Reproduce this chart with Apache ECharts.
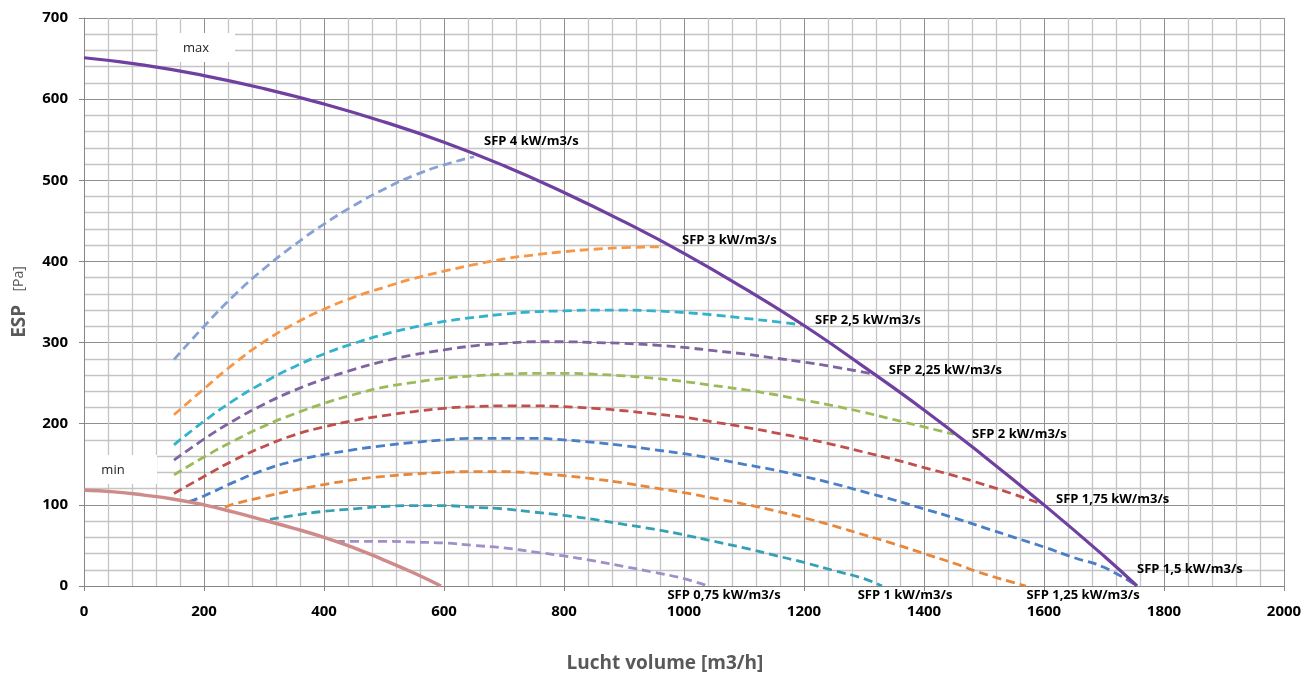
<!DOCTYPE html>
<html>
<head>
<meta charset="utf-8">
<script src="https://cdn.jsdelivr.net/npm/echarts@6/dist/echarts.min.js"></script>
<style>
  html, body { margin: 0; padding: 0; background: #fff; }
  #chart { width: 1304px; height: 675px; }
</style>
</head>
<body>
<div id="chart"></div>
<script>
// ventilator curves, airflow [m3/h] vs ESP [Pa]
const maxCurve = [[0,651],[100,642],[200,629],[300,613],[400,594],[500,572],[600,547],[700,518],[800,485],[900,449],[1000,410],[1100,367],[1200,321],[1300,270],[1400,217],[1500,160],[1600,100],[1700,37],[1755,0]]
const minCurve = [[0,118],[50,116],[100,112],[150,107],[200,100],[250,91],[300,81],[350,71],[400,60],[450,47],[500,32],[550,16],[595,0]]

const sfp4 = [[150,279],[200,320],[250,358],[300,391],[350,420],[400,446],[450,469],[500,489],[550,506],[600,519],[650,529]]
const sfp3 = [[150,211],[200,243],[250,274],[300,301],[350,323],[400,341],[450,356],[500,368],[550,379],[600,388],[650,396],[700,403],[750,408],[800,412],[850,415],[900,417],[960,418]]
const sfp25 = [[150,174],[200,203],[250,229],[300,251],[350,270],[400,286],[450,299],[500,310],[550,319],[600,326],[650,331],[700,335],[750,338],[800,339],[850,340],[900,340],[950,339],[1000,337],[1050,334],[1100,330],[1150,326],[1195,322]]
const sfp225 = [[150,155],[200,181],[250,204],[300,224],[350,241],[400,255],[450,267],[500,277],[550,285],[600,291],[650,296],[700,299],[750,301],[800,301],[850,300],[900,299],[950,297],[1000,294],[1050,290],[1100,286],[1150,281],[1200,276],[1250,270],[1318,261]]
const sfp2 = [[150,137],[200,159],[250,179],[300,197],[350,212],[400,225],[450,236],[500,245],[550,251],[600,256],[650,259],[700,261],[750,262],[800,262],[850,261],[900,259],[950,256],[1000,252],[1050,247],[1100,242],[1150,236],[1200,229],[1250,222],[1300,214],[1350,205],[1400,196],[1450,187]]
const sfp175 = [[150,114],[200,135],[250,155],[300,172],[350,186],[400,196],[450,204],[500,210],[550,215],[600,219],[650,221],[700,222],[750,222],[800,221],[850,219],[900,216],[950,212],[1000,208],[1050,202],[1100,196],[1150,189],[1200,182],[1250,174],[1300,165],[1350,156],[1400,146],[1450,136],[1500,125],[1550,113],[1600,100]]
const sfp15 = [[175,104],[200,111],[250,128],[300,143],[350,154],[400,162],[450,168],[500,173],[550,177],[600,180],[650,182],[700,182],[750,182],[800,180],[850,177],[900,173],[950,168],[1000,163],[1050,157],[1100,150],[1150,143],[1200,135],[1250,126],[1300,116],[1350,106],[1400,95],[1450,84],[1500,72],[1550,60],[1600,48],[1650,35],[1700,23],[1755,0]]
const sfp125 = [[235,97],[250,101],[300,110],[350,118],[400,125],[450,131],[500,135],[550,138],[600,140],[650,141],[700,141],[750,139],[800,136],[850,132],[900,127],[950,121],[1000,115],[1050,108],[1100,101],[1150,93],[1200,84],[1250,74],[1300,63],[1350,52],[1400,40],[1450,28],[1500,15],[1570,0]]
const sfp1 = [[310,82],[350,87],[400,92],[450,95],[500,98],[550,99],[600,99],[650,97],[700,95],[750,91],[800,87],[850,82],[900,76],[950,70],[1000,63],[1050,55],[1100,47],[1150,38],[1200,29],[1250,19],[1300,9],[1330,0]]
const sfp075 = [[420,55],[450,55],[500,55],[550,54],[600,53],[650,50],[700,47],[750,42],[800,37],[850,31],[900,24],[950,17],[1000,9],[1040,0]]

const FONT = '"Open Sans", "Liberation Sans", sans-serif'

const chart = echarts.init(document.getElementById('chart'))

const dashed = (name, data, color, offset, align) => ({
  name,
  type: 'line',
  data,
  smooth: true,
  showSymbol: false,
  silent: true,
  z: 3,
  lineStyle: { color, width: 2.8, type: [9, 5] },
  endLabel: {
    show: true,
    formatter: name,
    offset,
    align,
    distance: 0,
    color: '#000',
    fontFamily: FONT,
    fontWeight: 'bold',
    fontSize: 13
  }
})

const boxLabel = (text, left, top, width, textX) => ({
  type: 'group',
  left,
  top,
  children: [
    { type: 'rect', z: 100, shape: { x: 0, y: 0, width, height: 29 }, style: { fill: '#fff' } },
    { type: 'text', z: 101, x: textX, y: 15, style: { text, fontFamily: FONT, fontSize: 13, fill: '#222', align: 'center', verticalAlign: 'middle' } }
  ]
})

chart.setOption({
  animation: false,
  grid: { left: 84, right: 20, top: 18, bottom: 89, outerBoundsMode: 'none' },
  xAxis: {
    type: 'value',
    min: 0,
    max: 2000,
    interval: 200,
    name: 'Lucht volume [m3/h]',
    nameLocation: 'middle',
    nameGap: 68,
    nameTextStyle: { fontFamily: FONT, fontWeight: 'bold', fontSize: 19, color: '#595959', padding: [0, 38, 0, 0] },
    axisLine: { onZero: false, lineStyle: { color: '#868686', width: 1 } },
    axisTick: { show: true, length: 5, lineStyle: { color: '#868686' } },
    axisLabel: { fontFamily: FONT, fontWeight: 'bold', fontSize: 15, color: '#000', margin: 18, formatter: (v) => String(v) },
    splitLine: { show: true, lineStyle: { color: '#8f8f8f', width: 1 } },
    minorTick: { show: false, splitNumber: 5 },
    minorSplitLine: { show: true, lineStyle: { color: '#c4c4c4', width: 1.3 } }
  },
  yAxis: {
    type: 'value',
    min: 0,
    max: 700,
    interval: 100,
    name: '{a|ESP}    {b|[Pa]}',
    nameLocation: 'middle',
    nameGap: 55,
    nameRotate: 90,
    nameTextStyle: {
      rich: {
        a: { fontFamily: FONT, fontWeight: 'bold', fontSize: 19, color: '#595959' },
        b: { fontFamily: FONT, fontSize: 14, color: '#595959' }
      }
    },
    axisLine: { show: true, lineStyle: { color: '#868686', width: 1 } },
    axisTick: { show: true, length: 5, lineStyle: { color: '#868686' } },
    axisLabel: { fontFamily: FONT, fontWeight: 'bold', fontSize: 15, color: '#000', margin: 16 },
    splitLine: { show: true, lineStyle: { color: '#8f8f8f', width: 1 } },
    minorTick: { show: false, splitNumber: 5 },
    minorSplitLine: { show: true, lineStyle: { color: '#c4c4c4', width: 1.3 } }
  },
  series: [
    dashed('SFP 4 kW/m3/s', sfp4, '#86a2d4', [10, -15], 'left'),
    dashed('SFP 3 kW/m3/s', sfp3, '#f79646', [22, -7], 'left'),
    dashed('SFP 2,5 kW/m3/s', sfp25, '#33b2cc', [14, -4], 'left'),
    dashed('SFP 2,25 kW/m3/s', sfp225, '#8064a2', [14, -4], 'left'),
    dashed('SFP 2 kW/m3/s', sfp2, '#9bbb59', [18, 0], 'left'),
    dashed('SFP 1,75 kW/m3/s', sfp175, '#c0504d', [12, -6], 'left'),
    dashed('SFP 1,5 kW/m3/s', sfp15, '#4a7ec6', [0, -17], 'left'),
    dashed('SFP 1,25 kW/m3/s', sfp125, '#e8873a', [57, 9], 'center'),
    dashed('SFP 1 kW/m3/s', sfp1, '#35a0b5', [23, 9], 'center'),
    dashed('SFP 0,75 kW/m3/s', sfp075, '#a08fc8', [16, 9], 'center'),
    {
      name: 'max',
      type: 'line',
      data: maxCurve,
      smooth: true,
      showSymbol: false,
      silent: true,
      z: 4,
      lineStyle: { color: '#7040a0', width: 3.2 }
    },
    {
      name: 'min',
      type: 'line',
      data: minCurve,
      smooth: true,
      showSymbol: false,
      silent: true,
      z: 4,
      lineStyle: { color: '#cf8a8a', width: 3.5 }
    }
  ],
  graphic: [
    boxLabel('max', 158, 33, 77, 38),
    boxLabel('min', 85, 455, 72, 28)
  ]
})
</script>
</body>
</html>
